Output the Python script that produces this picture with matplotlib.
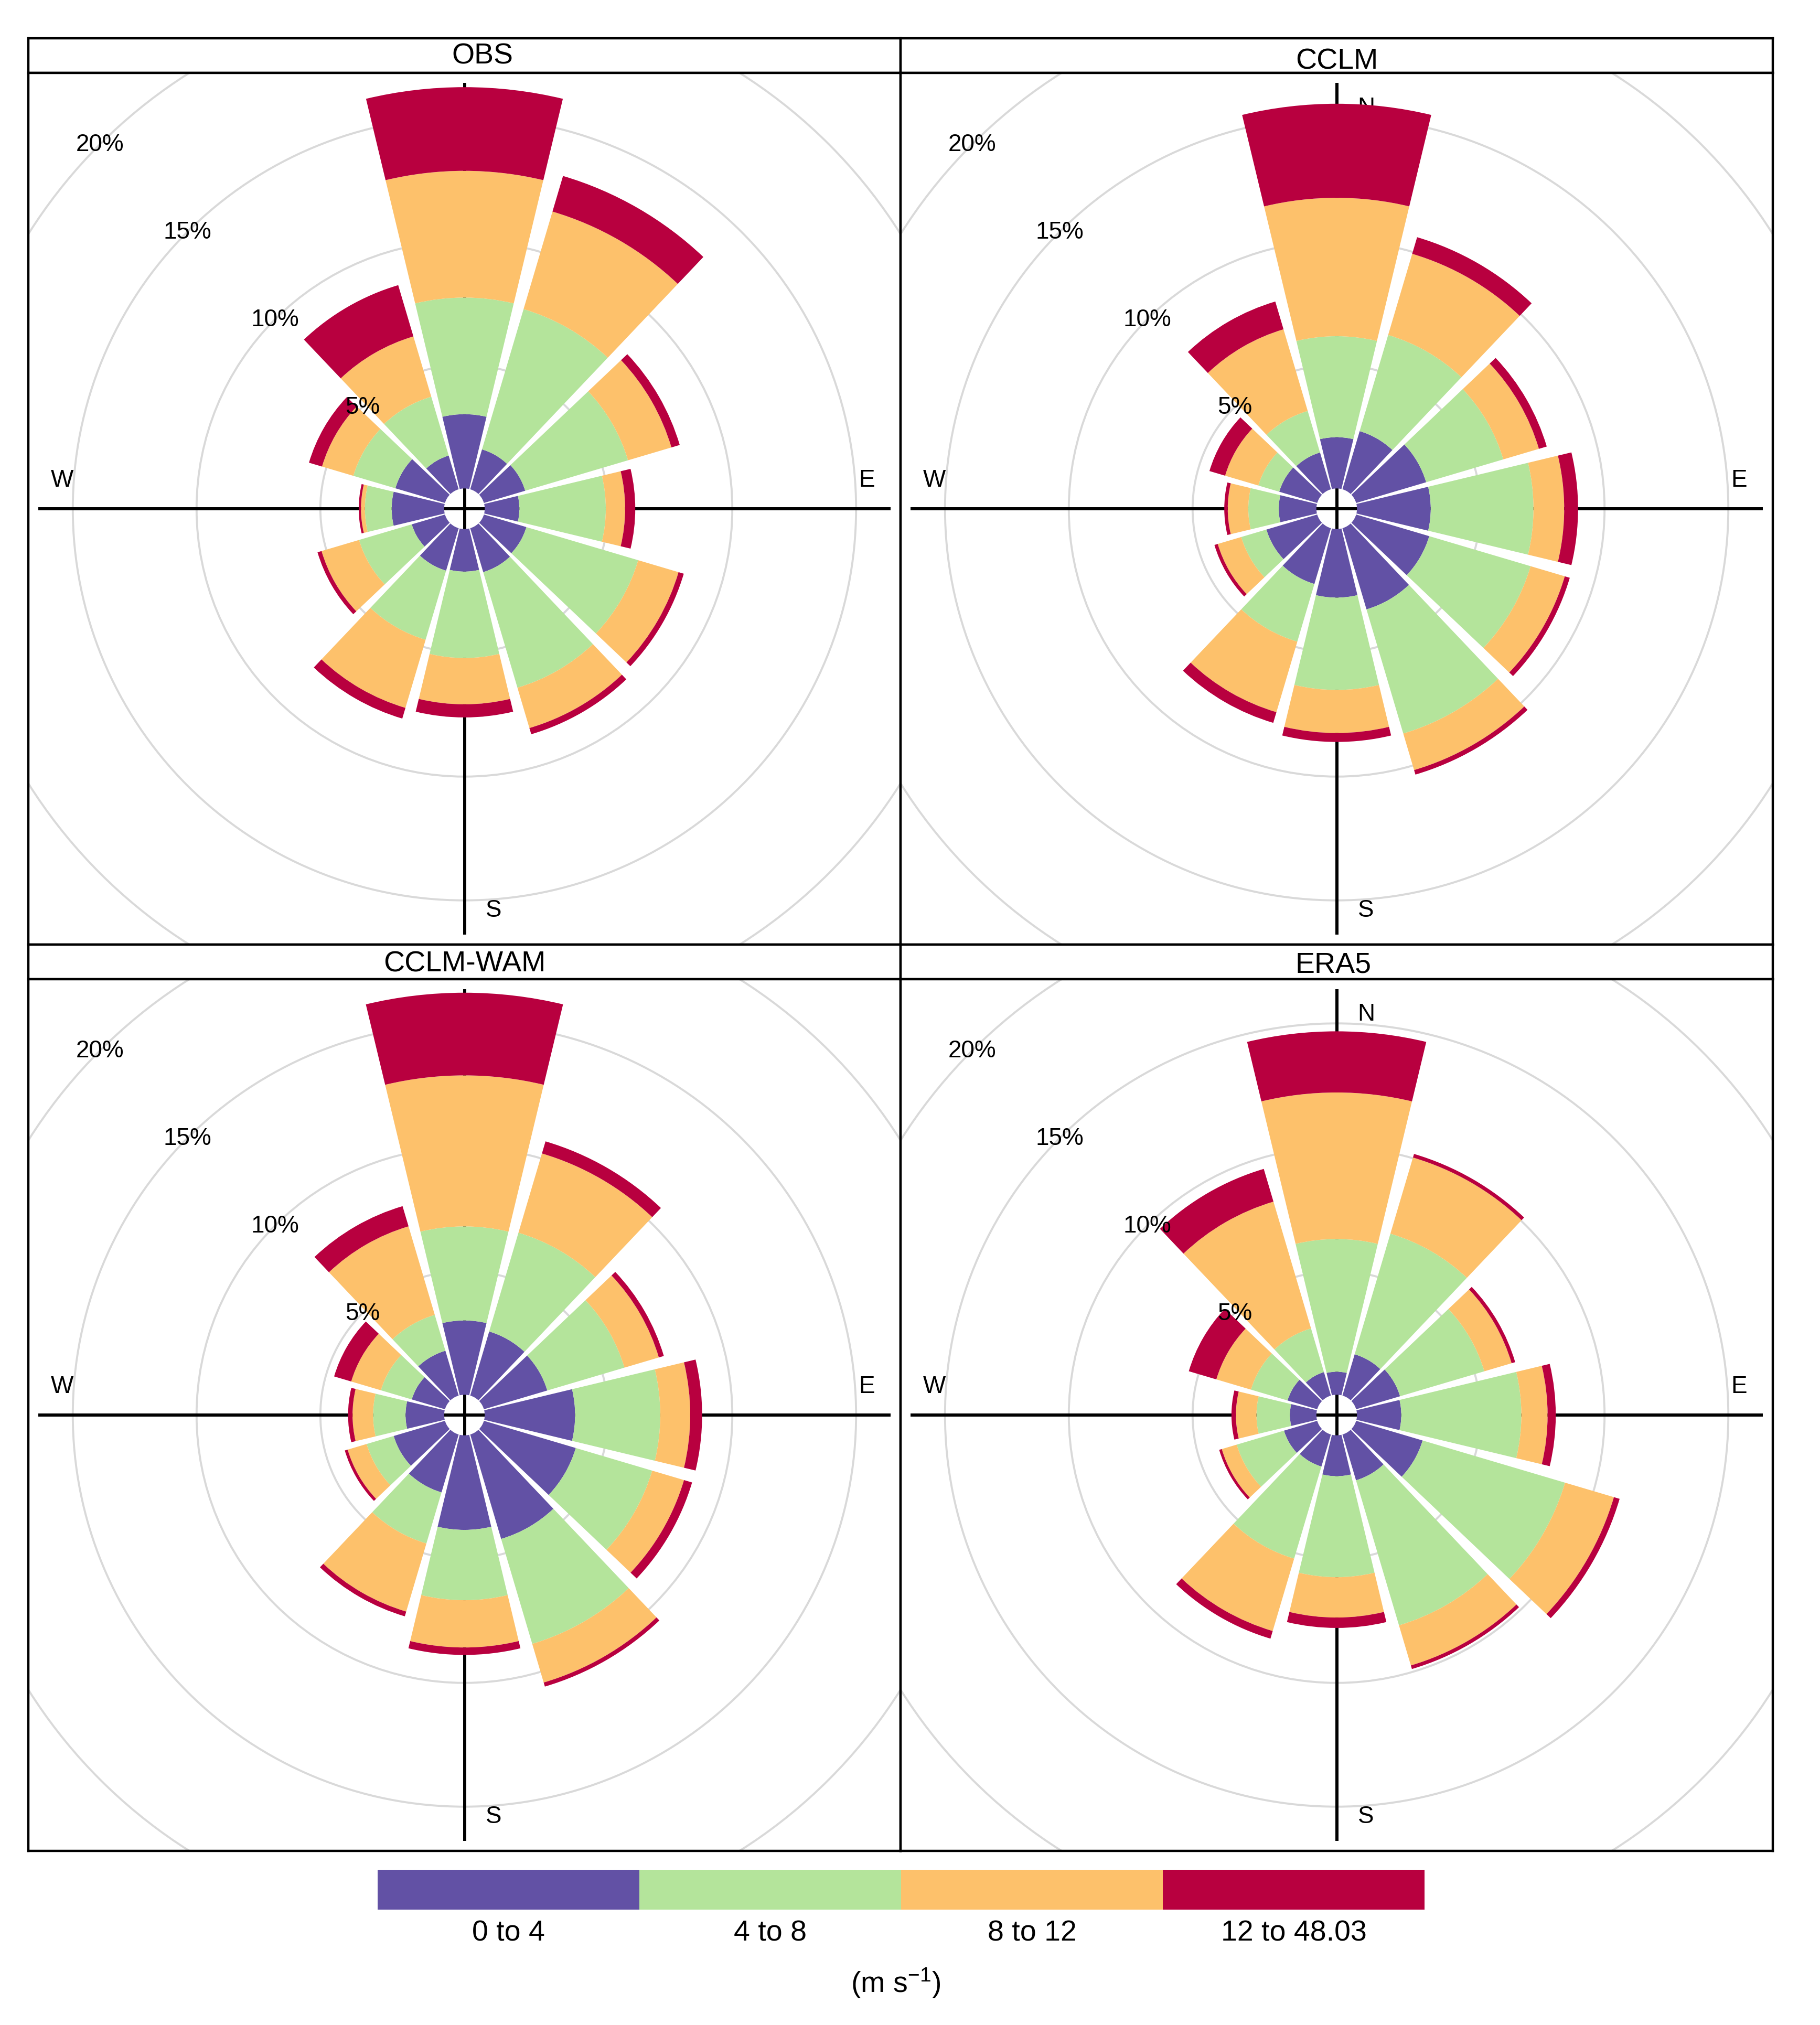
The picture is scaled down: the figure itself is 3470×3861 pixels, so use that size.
import numpy as np
import matplotlib.pyplot as plt
from matplotlib.patches import Wedge, Circle

plt.rcParams['font.family'] = ['Liberation Sans', 'DejaVu Sans']
plt.rcParams['mathtext.default'] = 'regular'

# wind direction sectors (degrees from north, clockwise)
directions = [0, 30, 60, 90, 120, 150, 180, 210, 240, 270, 300, 330]
speed_bins = ["0 to 4", "4 to 8", "8 to 12", "12 to 48.03"]
bin_colours = ["#6251A5", "#B4E49B", "#FDC16B", "#B8003F"]
panel_names = ["OBS", "CCLM", "CCLM-WAM", "ERA5"]

# frequency (%) per speed bin, one row per bin, one value per direction
obs_freq = [
    [3.00, 1.68, 1.74, 1.40, 1.79, 1.85, 1.72, 1.79, 1.40, 2.12, 2.09, 1.42],
    [4.71, 5.91, 4.33, 3.49, 4.71, 4.87, 3.49, 2.91, 2.22, 1.08, 1.77, 2.48],
    [5.12, 4.11, 1.83, 0.78, 1.70, 1.70, 1.87, 2.87, 1.58, 0.16, 1.32, 2.54],
    [3.38, 1.50, 0.35, 0.41, 0.22, 0.26, 0.53, 0.45, 0.17, 0.09, 0.55, 2.16],
]
cclm_freq = [
    [2.07, 2.45, 2.95, 2.98, 3.08, 3.42, 2.77, 2.35, 2.14, 1.52, 1.60, 1.55],
    [4.08, 4.05, 3.25, 4.15, 4.27, 5.23, 3.73, 2.43, 1.06, 1.23, 0.88, 1.75],
    [5.59, 3.42, 1.50, 1.24, 1.44, 1.54, 1.74, 2.97, 0.99, 0.83, 1.40, 3.44],
    [3.80, 0.70, 0.33, 0.56, 0.21, 0.19, 0.36, 0.45, 0.14, 0.14, 0.66, 1.17],
]
cclm_wam_freq = [
    [3.00, 2.70, 2.67, 3.65, 3.87, 4.40, 3.82, 2.44, 2.16, 1.56, 1.40, 1.89],
    [3.80, 4.16, 3.25, 3.44, 3.22, 4.42, 2.84, 2.15, 1.14, 1.31, 1.30, 1.51],
    [6.10, 3.34, 1.45, 1.21, 1.34, 1.63, 1.91, 2.87, 0.80, 0.83, 1.25, 3.73],
    [3.34, 0.51, 0.21, 0.48, 0.34, 0.17, 0.30, 0.20, 0.12, 0.18, 0.72, 0.85],
]
era5_freq = [
    [0.93, 1.74, 1.85, 1.79, 2.80, 1.93, 1.65, 1.35, 1.40, 1.07, 1.25, 0.99],
    [5.36, 5.08, 3.55, 4.85, 6.00, 6.11, 4.08, 3.88, 1.99, 1.35, 1.54, 1.84],
    [5.92, 3.21, 1.15, 1.06, 2.06, 1.69, 1.63, 3.05, 0.63, 0.83, 1.46, 5.34],
    [2.47, 0.15, 0.15, 0.33, 0.24, 0.15, 0.42, 0.32, 0.11, 0.18, 1.16, 1.38],
]
all_freq = [obs_freq, cclm_freq, cclm_wam_freq, era5_freq]

grid_pcts = [5, 10, 15, 20, 25]
label_pcts = [5, 10, 15, 20]

W, H = 3470, 3862
fig = plt.figure(figsize=(W / 100, H / 100), dpi=100)

px_per_unit = 47.2   # pixels per 1 % of frequency
hole = 0.82          # empty centre, in % units
half_angle = 13.5
axis_len = 17.15

col_edges = [54, 1717, 3380]
row_edges = [74, 1802, 3530]
strip_h = 66
title_dx = [34, 0, 0, -6]
title_dy = [0, 11, 4, 6]

for n, name in enumerate(panel_names):
    i, j = divmod(n, 2)
    x0, x1 = col_edges[j], col_edges[j + 1]
    y0, y1 = row_edges[i], row_edges[i + 1]
    pw = x1 - x0
    ph = y1 - y0 - strip_h

    # strip with panel name
    axs = fig.add_axes([x0 / W, 1 - (y0 + strip_h) / H, pw / W, strip_h / H])
    axs.set_xticks([])
    axs.set_yticks([])
    for sp in axs.spines.values():
        sp.set_linewidth(3.2)
    axs.text(0.5 + title_dx[n] / pw, 0.5 - title_dy[n] / strip_h, name,
             transform=axs.transAxes, ha='center', va='center', fontsize=40)

    ax = fig.add_axes([x0 / W, 1 - y1 / H, pw / W, ph / H])
    ax.set_xlim(-pw / 2 / px_per_unit, pw / 2 / px_per_unit)
    ax.set_ylim(-ph / 2 / px_per_unit, ph / 2 / px_per_unit)
    ax.set_xticks([])
    ax.set_yticks([])
    for sp in ax.spines.values():
        sp.set_linewidth(3.2)

    for p in grid_pcts:
        ax.add_patch(Circle((0, 0), hole + p, fill=False, ec='#D9D9D9',
                            lw=2.8, zorder=1))

    ax.plot([-axis_len, axis_len], [0, 0], color='black', lw=4.3, zorder=2)
    ax.plot([0, 0], [-axis_len, axis_len], color='black', lw=4.3, zorder=2)
    ax.text(1.19, 16.2, "N", ha='center', va='center', fontsize=33, zorder=2)
    ax.text(1.19, -16.2, "S", ha='center', va='center', fontsize=33, zorder=2)
    ax.text(16.25, 1.16, "E", ha='center', va='center', fontsize=33, zorder=2)
    ax.text(-16.25, 1.16, "W", ha='center', va='center', fontsize=33, zorder=2)

    freq = all_freq[n]
    for k, d in enumerate(directions):
        base = hole
        for b in range(len(speed_bins)):
            v = freq[b][k]
            ax.add_patch(Wedge((0, 0), base + v, 90 - d - half_angle,
                               90 - d + half_angle, width=v,
                               fc=bin_colours[b], ec='none', zorder=3))
            base += v

    for p in label_pcts:
        r = (hole + p) / np.sqrt(2)
        ax.text(-r, r, f"{p}%", ha='center', va='center', fontsize=33, zorder=5)

# colour key
lx0, lx1, ly0, ly1 = 720, 2716, 3566, 3642
axl = fig.add_axes([lx0 / W, 1 - ly1 / H, (lx1 - lx0) / W, (ly1 - ly0) / H])
axl.bar(np.arange(len(speed_bins)), 1, width=1, align='edge', color=bin_colours)
axl.set_xlim(0, len(speed_bins))
axl.set_ylim(0, 1)
axl.axis('off')
lh = ly1 - ly0
for k, lab in enumerate(speed_bins):
    axl.text(k + 0.5, -(3687 - ly1) / lh, lab, ha='center', va='center', fontsize=40)
axl.text(1.98, -(3781 - ly1) / lh, r"(m s$^{-1}$)", ha='center', va='center', fontsize=40)

fig.savefig("out.png", dpi=100)
